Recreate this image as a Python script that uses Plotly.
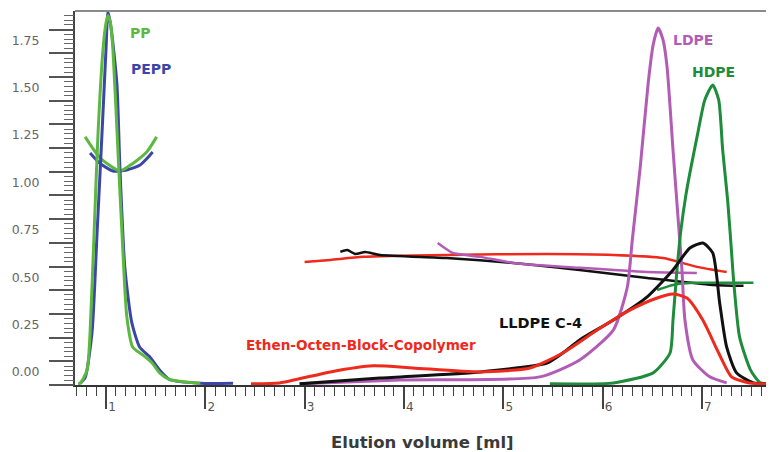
import plotly.graph_objects as go

# ---------------- data (elution volume [ml], signal) ----------------
pp_x = [0.72, 0.74, 0.81, 0.84, 0.88, 0.92, 0.97, 1.00, 1.02, 1.045, 1.07, 1.12, 1.17, 1.21, 1.27, 1.37, 1.46, 1.54, 1.64, 1.95]
pp_y = [-0.06, -0.06, 0.01, 0.21, 0.73, 1.26, 1.70, 1.84, 1.88, 1.84, 1.70, 1.17, 0.64, 0.29, 0.13, 0.09, 0.05, -0.005, -0.04, -0.06]

pepp_x = [0.74, 0.79, 0.86, 0.91, 0.96, 1.00, 1.02, 1.05, 1.11, 1.14, 1.19, 1.26, 1.34, 1.44, 1.54, 1.64, 1.95, 2.28]
pepp_y = [-0.06, -0.03, 0.21, 0.73, 1.26, 1.70, 1.90, 1.82, 1.52, 1.08, 0.55, 0.26, 0.13, 0.08, 0.01, -0.04, -0.06, -0.06]

pp_cal_x = [0.79, 0.94, 1.14, 1.27, 1.41, 1.51]
pp_cal_y = [1.24, 1.13, 1.06, 1.10, 1.16, 1.24]

pepp_cal_x = [0.84, 0.94, 1.07, 1.21, 1.34, 1.42, 1.47]
pepp_cal_y = [1.155, 1.10, 1.06, 1.065, 1.09, 1.13, 1.16]

ldpe_x = [2.95, 3.96, 5.37, 5.77, 6.11, 6.25, 6.30, 6.38, 6.46, 6.51, 6.56, 6.61, 6.65, 6.71, 6.76, 6.80, 6.83, 6.91, 7.08, 7.25]
ldpe_y = [-0.063, -0.042, -0.026, 0.063, 0.222, 0.448, 0.696, 1.081, 1.524, 1.725, 1.814, 1.751, 1.609, 1.171, 0.818, 0.538, 0.274, 0.063, -0.026, -0.058]

ldpe_cal_x = [4.34, 4.41, 4.49, 4.77, 5.10, 5.77, 6.45, 6.95]
ldpe_cal_y = [0.680, 0.654, 0.628, 0.607, 0.575, 0.549, 0.527, 0.522]

hdpe_x = [5.47, 6.11, 6.51, 6.68, 6.71, 6.75, 6.79, 6.84, 6.88, 6.96, 7.03, 7.11, 7.17, 7.21, 7.26, 7.30, 7.32, 7.38, 7.49, 7.59, 7.74]
hdpe_y = [-0.063, -0.058, -0.005, 0.100, 0.274, 0.538, 0.749, 0.934, 1.050, 1.261, 1.435, 1.514, 1.435, 1.171, 0.907, 0.628, 0.485, 0.185, 0.011, -0.058, -0.063]

hdpe_cal_x = [6.55, 6.71, 6.91, 7.21, 7.52]
hdpe_cal_y = [0.432, 0.459, 0.470, 0.470, 0.470]

lldpe_x = [2.95, 3.76, 4.77, 5.44, 5.60, 5.77, 6.11, 6.45, 6.71, 6.88, 7.01, 7.11, 7.18, 7.25, 7.35, 7.52, 7.69]
lldpe_y = [-0.063, -0.032, 0.000, 0.047, 0.100, 0.169, 0.274, 0.396, 0.538, 0.654, 0.680, 0.628, 0.364, 0.132, -0.005, -0.058, -0.063]

lldpe_cal_x = [3.36, 3.43, 3.51, 3.61, 3.76, 4.43, 5.10, 5.77, 6.45, 7.11, 7.42]
lldpe_cal_y = [0.633, 0.643, 0.622, 0.633, 0.617, 0.601, 0.575, 0.538, 0.496, 0.459, 0.454]

eocp_x = [2.46, 2.75, 3.26, 3.69, 4.09, 4.77, 5.27, 5.60, 5.95, 6.28, 6.55, 6.71, 6.85, 7.01, 7.17, 7.30, 7.48, 7.69]
eocp_y = [-0.063, -0.058, 0.000, 0.032, 0.021, 0.000, 0.021, 0.100, 0.222, 0.327, 0.390, 0.411, 0.390, 0.274, 0.100, -0.026, -0.058, -0.063]

eocp_cal_x = [3.00, 3.26, 3.59, 4.43, 5.44, 6.11, 6.61, 6.95, 7.25]
eocp_cal_y = [0.580, 0.591, 0.607, 0.617, 0.622, 0.617, 0.601, 0.554, 0.527]

labels = ["PP", "PEPP", "LDPE", "HDPE", "LLDPE C-4", "Ethen-Octen-Block-Copolymer"]
label_x = [1.22, 1.23, 6.69, 6.88, 4.94, 2.39]
label_y = [1.79, 1.60, 1.75, 1.58, 0.258, 0.142]

x_ticks = [1, 2, 3, 4, 5, 6, 7]
y_ticks = [0.0, 0.25, 0.5, 0.75, 1.0, 1.25, 1.5, 1.75]
y_tick_text = ["0.00", "0.25", "0.50", "0.75", "1.00", "1.25", "1.50", "1.75"]

# ---------------- styling ----------------
C_PP = "#5cb83f"
C_PEPP = "#3b47a8"
C_LDPE = "#b25cb6"
C_HDPE = "#1f8c3c"
C_LLDPE = "#111111"
C_EOCP = "#ee2a1c"
label_colors = [C_PP, C_PEPP, C_LDPE, C_HDPE, C_LLDPE, C_EOCP]
label_sizes = [14, 14, 14, 14, 14.5, 13.6]

Y_RANGE = [-0.069, 1.904]
X_RANGE = [0.688, 7.727]

fig = go.Figure()

def add(x, y, color, width=3):
    fig.add_trace(go.Scatter(x=x, y=y, mode="lines", line=dict(color=color, width=width, shape="spline", smoothing=0.6),
                             hoverinfo="skip", showlegend=False))

# calibration-type curves first (thinner)
add(eocp_cal_x, eocp_cal_y, C_EOCP, 2.5)
add(lldpe_cal_x, lldpe_cal_y, C_LLDPE, 2.5)
add(ldpe_cal_x, ldpe_cal_y, C_LDPE, 2.5)
add(hdpe_cal_x, hdpe_cal_y, C_HDPE, 2.5)
add(pepp_cal_x, pepp_cal_y, C_PEPP, 3)
add(pp_cal_x, pp_cal_y, C_PP, 3)

# elution curves
add(ldpe_x, ldpe_y, C_LDPE)
add(hdpe_x, hdpe_y, C_HDPE)
add(lldpe_x, lldpe_y, C_LLDPE)
add(eocp_x, eocp_y, C_EOCP)
add(pepp_x, pepp_y, C_PEPP)
add(pp_x, pp_y, C_PP)

# dummy trace for the tick-only y axis
fig.add_trace(go.Scatter(x=[X_RANGE[0]], y=[Y_RANGE[0]], yaxis="y2", mode="markers",
                         marker=dict(opacity=0), hoverinfo="skip", showlegend=False))

for t, lx, ly, c, s in zip(labels, label_x, label_y, label_colors, label_sizes):
    fig.add_annotation(x=lx, y=ly, text=f"<b>{t}</b>", showarrow=False, xanchor="left", yanchor="middle",
                       font=dict(family="DejaVu Sans", size=s, color=c))

fig.add_annotation(xref="paper", yref="paper", x=0.497, y=-0.155, text="<b>Elution volume [ml]</b>",
                   showarrow=False, xanchor="center", yanchor="middle",
                   font=dict(family="DejaVu Sans", size=16.5, color="#3a3a3a"))

# top frame line
fig.add_shape(type="line", xref="paper", yref="paper", x0=0, x1=1, y0=1, y1=1,
              line=dict(color="#8a8a8a", width=2))

# the page body adds an 8px offset, so the figure is drawn 8px smaller and shifted
fig.update_layout(
    width=766, height=444,
    margin=dict(l=67, r=0, t=3, b=67),
    paper_bgcolor="white", plot_bgcolor="white",
    showlegend=False,
    xaxis=dict(range=X_RANGE, showgrid=False, zeroline=False, showline=True, linecolor="#333333", linewidth=2,
               tickvals=x_ticks, ticks="outside", ticklen=22, tickwidth=1.5, tickcolor="#444444",
               tickfont=dict(family="DejaVu Sans", size=12, color="#555555"),
               ticklabelshift=6, ticklabelstandoff=-12,
               minor=dict(dtick=0.1, tick0=0, ticks="outside", ticklen=9, tickwidth=1.2, tickcolor="#444444")),
    yaxis=dict(range=Y_RANGE, showgrid=False, zeroline=False, showline=True, linecolor="#444444", linewidth=2,
               tickvals=y_ticks, ticktext=y_tick_text, ticks="outside", ticklen=31, tickcolor="rgba(0,0,0,0)",
               tickfont=dict(family="DejaVu Sans", size=12.5, color="#666666")),
    yaxis2=dict(range=Y_RANGE, overlaying="y", side="left", showgrid=False, zeroline=False, showline=False,
                showticklabels=False, tick0=-0.069, dtick=0.125, ticks="outside", ticklen=25, tickwidth=1.5,
                tickcolor="#555555",
                minor=dict(tick0=-0.069, dtick=0.025, ticks="outside", ticklen=10, tickwidth=1.2, tickcolor="#666666")),
)

fig.write_html("out.html")
